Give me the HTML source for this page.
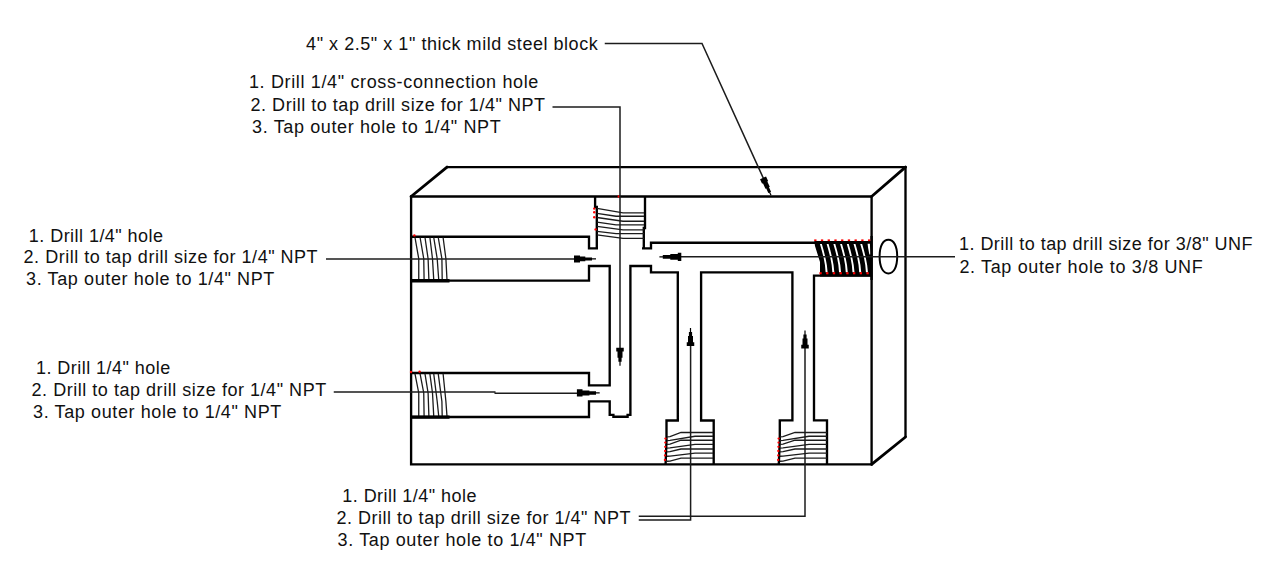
<!DOCTYPE html>
<html lang="en">
<head>
<meta charset="utf-8">
<title>Manifold block drilling diagram</title>
<style>
html,body{margin:0;padding:0;background:#fff;}
body{width:1280px;height:579px;overflow:hidden;}
svg{display:block;}
text{white-space:pre;}
</style>
</head>
<body>
<svg width="1280" height="579" viewBox="0 0 1280 579">
<rect width="1280" height="579" fill="#fff"/>
<g font-family="'Liberation Sans', Arial, sans-serif" font-size="18" fill="#111">
<text x="306.1" y="50.35" textLength="291.60" lengthAdjust="spacing">4&quot; x 2.5&quot; x 1&quot; thick mild steel block</text>
<text x="248.94" y="88.2" textLength="289.45" lengthAdjust="spacing">1. Drill 1/4&quot; cross-connection hole</text>
<text x="250.52" y="110.7" textLength="294.42" lengthAdjust="spacing">2. Drill to tap drill size for 1/4&quot; NPT</text>
<text x="252.12" y="133.1" textLength="248.54" lengthAdjust="spacing">3. Tap outer hole to 1/4&quot; NPT</text>
<text x="28.8" y="241.6" textLength="134.21" lengthAdjust="spacing">1. Drill 1/4&quot; hole</text>
<text x="23.58" y="263.4" textLength="294.04" lengthAdjust="spacing">2. Drill to tap drill size for 1/4&quot; NPT</text>
<text x="26.1" y="285.35" textLength="248.24" lengthAdjust="spacing">3. Tap outer hole to 1/4&quot; NPT</text>
<text x="35.94" y="374.35" textLength="134.33" lengthAdjust="spacing">1. Drill 1/4&quot; hole</text>
<text x="31.52" y="396.2" textLength="294.66" lengthAdjust="spacing">2. Drill to tap drill size for 1/4&quot; NPT</text>
<text x="33.07" y="418.1" textLength="248.23" lengthAdjust="spacing">3. Tap outer hole to 1/4&quot; NPT</text>
<text x="342.26" y="502.2" textLength="134.20" lengthAdjust="spacing">1. Drill 1/4&quot; hole</text>
<text x="336.38" y="524.1" textLength="294.14" lengthAdjust="spacing">2. Drill to tap drill size for 1/4&quot; NPT</text>
<text x="337.6" y="546.0" textLength="248.59" lengthAdjust="spacing">3. Tap outer hole to 1/4&quot; NPT</text>
<text x="958.94" y="249.85" textLength="293.46" lengthAdjust="spacing">1. Drill to tap drill size for 3/8&quot; UNF</text>
<text x="959.38" y="273.35" textLength="243.37" lengthAdjust="spacing">2. Tap outer hole to 3/8 UNF</text>
</g>
<path d="M411.1,196.5 H871.6 V464.4 H411.1 Z" fill="none" stroke="#000" stroke-width="2.35" stroke-linejoin="miter" stroke-linecap="butt"/>
<path d="M446.5,167.1 H905.5 V437" fill="none" stroke="#000" stroke-width="2.35" stroke-linejoin="miter" stroke-linecap="butt"/>
<path d="M411.1,196.5 L447,167.1 M871.6,196.5 L905.5,167.1 M871.6,464.4 L905.5,437" fill="none" stroke="#000" stroke-width="2.8" stroke-linecap="round"/>
<path d="M411.1,236.7 H589 V248.4 H596.8 V207 H595.1 V196.5" fill="none" stroke="#000" stroke-width="2.35" stroke-linejoin="miter" stroke-linecap="butt"/>
<path d="M645,196.5 V228 H643.8 V248.4 M642,248.4 H651 V242.7 H815" fill="none" stroke="#000" stroke-width="2.35" stroke-linejoin="miter" stroke-linecap="butt"/>
<path d="M411.1,280.6 H589 V266 H609.7 V385.3 H589 V373 H411.1" fill="none" stroke="#000" stroke-width="2.35" stroke-linejoin="miter" stroke-linecap="butt"/>
<path d="M411.1,417 H589 V401.3 H609.7 V414.9 H613.4 V416.7 H627.6 V414.9 H630.4 V266 H651 V272.3 H677.8 V420.5 H666.5 V440 L665.6,464.4" fill="none" stroke="#000" stroke-width="2.35" stroke-linejoin="miter" stroke-linecap="butt"/>
<path d="M713.7,464.4 V420.5 H701.1 V272.3 H792.4 V420.4 H779.8 V440 L778.8,464.4" fill="none" stroke="#000" stroke-width="2.35" stroke-linejoin="miter" stroke-linecap="butt"/>
<path d="M827,464.4 V420.4 H814 V275.6 H871.6" fill="none" stroke="#000" stroke-width="2.35" stroke-linejoin="miter" stroke-linecap="butt"/>
<path d="M415,237.5 L418.75,258.75 L418.75,280" fill="none" stroke="#1c1c1c" stroke-width="1.3" stroke-linecap="butt" stroke-linejoin="miter"/>
<path d="M420.1,237.5 L423.75,258.75 L424.1,280" fill="none" stroke="#1c1c1c" stroke-width="1.3" stroke-linecap="butt" stroke-linejoin="miter"/>
<path d="M425,237.5 L428.1,258.75 L428.9,280" fill="none" stroke="#1c1c1c" stroke-width="1.3" stroke-linecap="butt" stroke-linejoin="miter"/>
<path d="M429.9,237.5 L432.5,258.75 L433.75,280" fill="none" stroke="#1c1c1c" stroke-width="1.3" stroke-linecap="butt" stroke-linejoin="miter"/>
<path d="M433.75,237.5 L437.2,258.75 L438.75,280" fill="none" stroke="#1c1c1c" stroke-width="1.3" stroke-linecap="butt" stroke-linejoin="miter"/>
<path d="M438.25,237.5 L441.9,258.75 L442.2,280" fill="none" stroke="#1c1c1c" stroke-width="1.3" stroke-linecap="butt" stroke-linejoin="miter"/>
<path d="M443.1,237.5 L445.9,258.75 L447,280" fill="none" stroke="#1c1c1c" stroke-width="1.3" stroke-linecap="butt" stroke-linejoin="miter"/>
<path d="M411.1,280.7 H449.5" fill="none" stroke="#000" stroke-width="3.4" stroke-linejoin="miter" stroke-linecap="butt"/>
<path d="M415,373.8 L418.75,392.96999999999997 L418.75,416.4" fill="none" stroke="#1c1c1c" stroke-width="1.3" stroke-linecap="butt" stroke-linejoin="miter"/>
<path d="M420.1,373.8 L423.75,392.96999999999997 L424.1,416.4" fill="none" stroke="#1c1c1c" stroke-width="1.3" stroke-linecap="butt" stroke-linejoin="miter"/>
<path d="M425,373.8 L428.1,392.96999999999997 L428.9,416.4" fill="none" stroke="#1c1c1c" stroke-width="1.3" stroke-linecap="butt" stroke-linejoin="miter"/>
<path d="M429.9,373.8 L432.5,392.96999999999997 L433.75,416.4" fill="none" stroke="#1c1c1c" stroke-width="1.3" stroke-linecap="butt" stroke-linejoin="miter"/>
<path d="M433.75,373.8 L437.2,401.49 L438.75,416.4" fill="none" stroke="#1c1c1c" stroke-width="1.3" stroke-linecap="butt" stroke-linejoin="miter"/>
<path d="M438.25,373.8 L441.9,401.49 L442.2,416.4" fill="none" stroke="#1c1c1c" stroke-width="1.3" stroke-linecap="butt" stroke-linejoin="miter"/>
<path d="M443.1,373.8 L445.9,401.49 L447,416.4" fill="none" stroke="#1c1c1c" stroke-width="1.3" stroke-linecap="butt" stroke-linejoin="miter"/>
<path d="M411.1,417.09999999999997 H449.5" fill="none" stroke="#000" stroke-width="3.4" stroke-linejoin="miter" stroke-linecap="butt"/>
<path d="M597,208.4 L623,212.8 H644" fill="none" stroke="#1c1c1c" stroke-width="1.3" stroke-linecap="butt" stroke-linejoin="miter"/>
<path d="M597,213.4 L616,216.25 H644" fill="none" stroke="#1c1c1c" stroke-width="1.3" stroke-linecap="butt" stroke-linejoin="miter"/>
<path d="M597,217.5 L623,221.25 H644" fill="none" stroke="#1c1c1c" stroke-width="1.3" stroke-linecap="butt" stroke-linejoin="miter"/>
<path d="M597,222.2 L616,224.8 H644" fill="none" stroke="#1c1c1c" stroke-width="1.3" stroke-linecap="butt" stroke-linejoin="miter"/>
<path d="M597,226.4 L623,229.8 H644" fill="none" stroke="#1c1c1c" stroke-width="1.3" stroke-linecap="butt" stroke-linejoin="miter"/>
<path d="M597,231.4 L616,233.6 H644" fill="none" stroke="#1c1c1c" stroke-width="1.3" stroke-linecap="butt" stroke-linejoin="miter"/>
<path d="M597,234.8 L623,238.4 H644" fill="none" stroke="#1c1c1c" stroke-width="1.3" stroke-linecap="butt" stroke-linejoin="miter"/>
<path d="M667,436.9 L670,436.7 L681,432.5 H713" fill="none" stroke="#1c1c1c" stroke-width="1.3" stroke-linecap="butt" stroke-linejoin="miter"/>
<path d="M667,440.6 L670,440.40000000000003 L695,436.25 H713" fill="none" stroke="#1c1c1c" stroke-width="1.3" stroke-linecap="butt" stroke-linejoin="miter"/>
<path d="M667,444.4 L670,444.2 L681,440.25 H713" fill="none" stroke="#1c1c1c" stroke-width="1.3" stroke-linecap="butt" stroke-linejoin="miter"/>
<path d="M667,448.1 L670,447.90000000000003 L695,444.4 H713" fill="none" stroke="#1c1c1c" stroke-width="1.3" stroke-linecap="butt" stroke-linejoin="miter"/>
<path d="M667,451.9 L670,451.7 L681,449 H713" fill="none" stroke="#1c1c1c" stroke-width="1.3" stroke-linecap="butt" stroke-linejoin="miter"/>
<path d="M667,456.25 L670,456.05 L695,453.1 H713" fill="none" stroke="#1c1c1c" stroke-width="1.3" stroke-linecap="butt" stroke-linejoin="miter"/>
<path d="M667,461.25 L670,461.05 L681,458.1 H713" fill="none" stroke="#1c1c1c" stroke-width="1.3" stroke-linecap="butt" stroke-linejoin="miter"/>
<path d="M780,436.9 L783,436.7 L795,432.5 H827" fill="none" stroke="#1c1c1c" stroke-width="1.3" stroke-linecap="butt" stroke-linejoin="miter"/>
<path d="M780,440.6 L783,440.40000000000003 L809,436.25 H827" fill="none" stroke="#1c1c1c" stroke-width="1.3" stroke-linecap="butt" stroke-linejoin="miter"/>
<path d="M780,444.4 L783,444.2 L795,440.25 H827" fill="none" stroke="#1c1c1c" stroke-width="1.3" stroke-linecap="butt" stroke-linejoin="miter"/>
<path d="M780,448.1 L783,447.90000000000003 L809,444.4 H827" fill="none" stroke="#1c1c1c" stroke-width="1.3" stroke-linecap="butt" stroke-linejoin="miter"/>
<path d="M780,451.9 L783,451.7 L795,449 H827" fill="none" stroke="#1c1c1c" stroke-width="1.3" stroke-linecap="butt" stroke-linejoin="miter"/>
<path d="M780,456.25 L783,456.05 L809,453.1 H827" fill="none" stroke="#1c1c1c" stroke-width="1.3" stroke-linecap="butt" stroke-linejoin="miter"/>
<path d="M780,461.25 L783,461.05 L795,458.1 H827" fill="none" stroke="#1c1c1c" stroke-width="1.3" stroke-linecap="butt" stroke-linejoin="miter"/>
<polygon points="814.3,241.0 871,241.0 871,276.6 820,276.6 820,262 815,246" fill="#000"/>
<polygon points="819.95,243.9 821.65,250 823.6,257.5 824.95,265 825.6,272.3 827.6,272.3 826.85,265 825.4,257.5 823.55,250 821.85,243.9" fill="#fff"/>
<polygon points="826.67,243.9 828.37,250 830.32,257.5 831.67,265 832.32,272.3 834.32,272.3 833.57,265 832.12,257.5 830.27,250 828.57,243.9" fill="#fff"/>
<polygon points="833.39,243.9 835.09,250 837.04,257.5 838.39,265 839.04,272.3 841.04,272.3 840.29,265 838.84,257.5 836.99,250 835.29,243.9" fill="#fff"/>
<polygon points="840.11,243.9 841.81,250 843.76,257.5 845.11,265 845.76,272.3 847.76,272.3 847.01,265 845.56,257.5 843.71,250 842.01,243.9" fill="#fff"/>
<polygon points="846.83,243.9 848.53,250 850.48,257.5 851.83,265 852.48,272.3 854.48,272.3 853.73,265 852.28,257.5 850.43,250 848.73,243.9" fill="#fff"/>
<polygon points="853.55,243.9 855.25,250 857.2,257.5 858.55,265 859.2,272.3 861.2,272.3 860.45,265 859.0,257.5 857.15,250 855.45,243.9" fill="#fff"/>
<polygon points="860.27,243.9 861.97,250 863.92,257.5 865.27,265 865.92,272.3 867.92,272.3 867.17,265 865.72,257.5 863.87,250 862.17,243.9" fill="#fff"/>
<polygon points="867.6,243.7 869.9,243.7 870.5,254.5 869.4,254.5 868.3,249" fill="#fff"/>
<path d="M871.6,236 V280" fill="none" stroke="#000" stroke-width="2.35" stroke-linejoin="miter" stroke-linecap="butt"/>
<rect x="814.20" y="239.4" width="2.3" height="1.7" fill="#f00"/>
<rect x="820.92" y="239.4" width="2.3" height="1.7" fill="#f00"/>
<rect x="827.64" y="239.4" width="2.3" height="1.7" fill="#f00"/>
<rect x="834.36" y="239.4" width="2.3" height="1.7" fill="#f00"/>
<rect x="841.08" y="239.4" width="2.3" height="1.7" fill="#f00"/>
<rect x="847.80" y="239.4" width="2.3" height="1.7" fill="#f00"/>
<rect x="854.52" y="239.4" width="2.3" height="1.7" fill="#f00"/>
<rect x="861.24" y="239.4" width="2.3" height="1.7" fill="#f00"/>
<rect x="867.96" y="239.4" width="2.3" height="1.7" fill="#f00"/>
<rect x="819.40" y="272.2" width="2.3" height="2.1" fill="#f00"/>
<rect x="826.12" y="272.2" width="2.3" height="2.1" fill="#f00"/>
<rect x="832.84" y="272.2" width="2.3" height="2.1" fill="#f00"/>
<rect x="839.56" y="272.2" width="2.3" height="2.1" fill="#f00"/>
<rect x="846.28" y="272.2" width="2.3" height="2.1" fill="#f00"/>
<rect x="853.00" y="272.2" width="2.3" height="2.1" fill="#f00"/>
<rect x="859.72" y="272.2" width="2.3" height="2.1" fill="#f00"/>
<rect x="866.44" y="272.2" width="2.3" height="2.1" fill="#f00"/>
<circle cx="594.2" cy="208.6" r="1.2" fill="#f00"/>
<circle cx="594.2" cy="212.3" r="1.2" fill="#f00"/>
<circle cx="594.2" cy="217.3" r="1.2" fill="#f00"/>
<circle cx="595.6" cy="229.4" r="1.2" fill="#f00"/>
<circle cx="618.8" cy="196.5" r="1.2" fill="#f00"/>
<circle cx="414.4" cy="235.4" r="1.2" fill="#f00"/>
<circle cx="411" cy="372" r="1.2" fill="#f00"/>
<circle cx="419.6" cy="371.6" r="1.2" fill="#f00"/>
<circle cx="665.4" cy="438.6" r="1.15" fill="#f00"/>
<circle cx="665.3" cy="442.6" r="1.15" fill="#f00"/>
<circle cx="665.1999999999999" cy="446.8" r="1.15" fill="#f00"/>
<circle cx="665.1" cy="451" r="1.15" fill="#f00"/>
<circle cx="665.0" cy="455.4" r="1.15" fill="#f00"/>
<circle cx="664.9" cy="460" r="1.15" fill="#f00"/>
<circle cx="778.6" cy="438.6" r="1.15" fill="#f00"/>
<circle cx="778.5" cy="442.6" r="1.15" fill="#f00"/>
<circle cx="778.4" cy="446.8" r="1.15" fill="#f00"/>
<circle cx="778.3000000000001" cy="451" r="1.15" fill="#f00"/>
<circle cx="778.2" cy="455.4" r="1.15" fill="#f00"/>
<circle cx="778.1" cy="460" r="1.15" fill="#f00"/>
<path d="M879.6,256.6 C879.6,246.18400000000003 882.944,239.8 888.4,239.8 C893.856,239.8 897.1999999999999,246.18400000000003 897.1999999999999,256.6 C897.1999999999999,267.016 893.856,273.40000000000003 888.4,273.40000000000003 C882.944,273.40000000000003 879.6,267.016 879.6,256.6 Z" fill="none" stroke="#000" stroke-width="2.0"/>
<path d="M604.75,43.5 H702 L769,190.6" fill="none" stroke="#1c1c1c" stroke-width="1.5" stroke-linecap="butt" stroke-linejoin="miter"/>
<polygon points="760.04,179.19 762.11,183.74 762.93,183.37 765.42,188.83 766.24,188.46 768.31,193.01 769.13,192.64 770.45,195.55 771.55,195.05 770.22,192.14 771.04,191.77 768.97,187.22 769.79,186.84 767.3,181.38 768.12,181.01 766.05,176.46" fill="#000"/>
<path d="M552.5,107 H620 V350" fill="none" stroke="#1c1c1c" stroke-width="1.5" stroke-linecap="butt" stroke-linejoin="miter"/>
<polygon points="616.25,347.7 616.25,351.5 617.5,351.5 617.5,357.7 618.4,357.7 618.4,361.7 619.4,361.7 619.4,365.7 620.6,365.7 620.6,361.7 621.6,361.7 621.6,357.7 622.5,357.7 622.5,351.5 623.75,351.5 623.75,347.7" fill="#000"/>
<path d="M326,259.1 H576" fill="none" stroke="#1c1c1c" stroke-width="1.5" stroke-linecap="butt" stroke-linejoin="miter"/>
<polygon points="574.0,262.4 580.0,262.4 580.0,261.3 585.3,261.3 585.3,260.4 592.0,260.4 592.0,259.5 596.0,259.5 596.0,258.3 592.0,258.3 592.0,257.4 585.3,257.4 585.3,256.5 580.0,256.5 580.0,255.4 574.0,255.4" fill="#000"/>
<path d="M333.75,392 H495.5 M494.5,393.2 H580" fill="none" stroke="#1c1c1c" stroke-width="1.5" stroke-linecap="butt" stroke-linejoin="miter"/>
<polygon points="576.9,396.5 582.5,396.5 582.5,395.4 589.4,395.4 589.4,394.65 596.0,394.65 596.0,393.5 599.7,393.5 599.7,392.3 596.0,392.3 596.0,391.15 589.4,391.15 589.4,390.4 582.5,390.4 582.5,389.3 576.9,389.3" fill="#000"/>
<path d="M638.75,520 H690.6 V344" fill="none" stroke="#1c1c1c" stroke-width="1.5" stroke-linecap="butt" stroke-linejoin="miter"/>
<polygon points="694.25,346.0 694.25,342.2 693.0,342.2 693.0,336.0 692.1,336.0 692.1,332.0 691.1,332.0 691.1,328.0 689.9,328.0 689.9,332.0 688.9,332.0 688.9,336.0 688.0,336.0 688.0,342.2 686.75,342.2 686.75,346.0" fill="#000"/>
<path d="M638.75,516.3 H805 V346" fill="none" stroke="#1c1c1c" stroke-width="1.5" stroke-linecap="butt" stroke-linejoin="miter"/>
<polygon points="808.75,348.6 808.75,344.8 807.5,344.8 807.5,338.6 806.6,338.6 806.6,334.6 805.6,334.6 805.6,330.6 804.4,330.6 804.4,334.6 803.4,334.6 803.4,338.6 802.5,338.6 802.5,344.8 801.25,344.8 801.25,348.6" fill="#000"/>
<path d="M955,256.8 H680" fill="none" stroke="#1c1c1c" stroke-width="1.5" stroke-linecap="butt" stroke-linejoin="miter"/>
<polygon points="681.3,252.8 677.8,252.8 677.8,254.0 670.3,254.0 670.3,255.1 662.8,255.1 662.8,256.3 659.4,256.3 659.4,257.5 662.8,257.5 662.8,258.7 670.3,258.7 670.3,259.8 677.8,259.8 677.8,261.0 681.3,261.0" fill="#000"/>
</svg>
</body>
</html>
